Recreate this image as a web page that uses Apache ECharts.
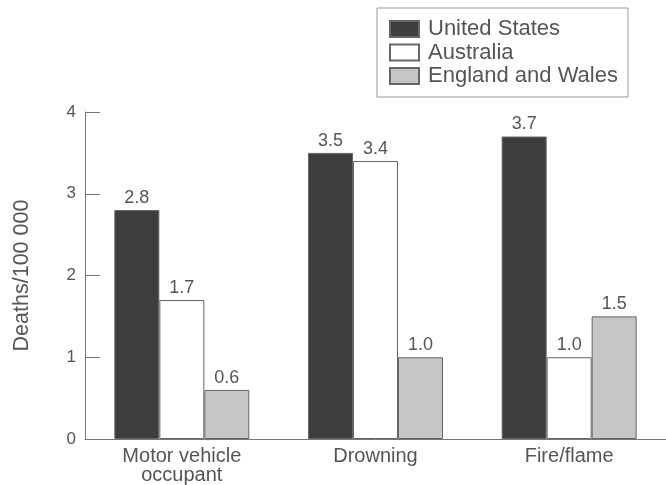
<!DOCTYPE html>
<html>
<head>
<meta charset="utf-8">
<script src="https://cdn.jsdelivr.net/npm/echarts@6/dist/echarts.min.js"></script>
<style>
html,body{margin:0;padding:0;background:#fff;}
#c{width:666px;height:485px;}
</style>
</head>
<body>
<div id="c"></div>
<script>
var categories = ['Motor vehicle\noccupant', 'Drowning', 'Fire/flame'];
var unitedStates = [2.8, 3.5, 3.7];
var australia = [1.7, 3.4, 1.0];
var englandWales = [0.6, 1.0, 1.5];
var seriesNames = ['United States', 'Australia', 'England and Wales'];
var yTicks = [0, 1, 2, 3, 4];

var FONT = 'Liberation Sans';
var chart = echarts.init(document.getElementById('c'));
var labelCfg = {
  show: true, position: 'top', distance: 3,
  fontSize: 18, color: '#555', fontFamily: FONT,
  formatter: function (p) { return p.value.toFixed(1); }
};
function bar(name, data, color) {
  return {
    name: name, type: 'bar', data: data, barWidth: 45, barGap: '0%',
    itemStyle: { color: color, borderColor: '#666', borderWidth: 1 },
    label: labelCfg
  };
}
chart.setOption({
  backgroundColor: '#fff',
  animation: false,
  textStyle: { fontFamily: FONT },
  grid: { left: 85, right: 0, top: 112, bottom: 46, outerBoundsMode: 'none' },
  legend: {
    orient: 'vertical', left: 377, top: 8,
    padding: [10, 10, 10, 12],
    itemGap: 1.5, itemWidth: 29, itemHeight: 16,
    icon: 'rect',
    borderColor: '#999', borderWidth: 1,
    textStyle: { fontSize: 22, color: '#555', fontFamily: FONT, padding: [0, 0, 0, 4] },
    data: seriesNames
  },
  xAxis: {
    type: 'category', data: categories,
    axisLine: { lineStyle: { color: '#777' } },
    axisTick: { show: false },
    axisLabel: { fontSize: 20, lineHeight: 19, color: '#555', margin: 8, fontFamily: FONT }
  },
  yAxis: {
    type: 'value', min: yTicks[0], max: yTicks[yTicks.length - 1], interval: 1,
    name: 'Deaths/100 000', nameLocation: 'middle', nameGap: 52,
    nameTextStyle: { fontSize: 21.5, color: '#555', fontFamily: FONT },
    axisLine: { show: true, lineStyle: { color: '#777' } },
    axisTick: { show: true, inside: true, length: 15, lineStyle: { color: '#777' } },
    axisLabel: { fontSize: 17, color: '#555', margin: 9, fontFamily: FONT },
    splitLine: { show: false }
  },
  series: [
    bar(seriesNames[0], unitedStates, '#3d3d3d'),
    bar(seriesNames[1], australia, '#ffffff'),
    bar(seriesNames[2], englandWales, '#c6c6c6')
  ]
});
</script>
</body>
</html>
